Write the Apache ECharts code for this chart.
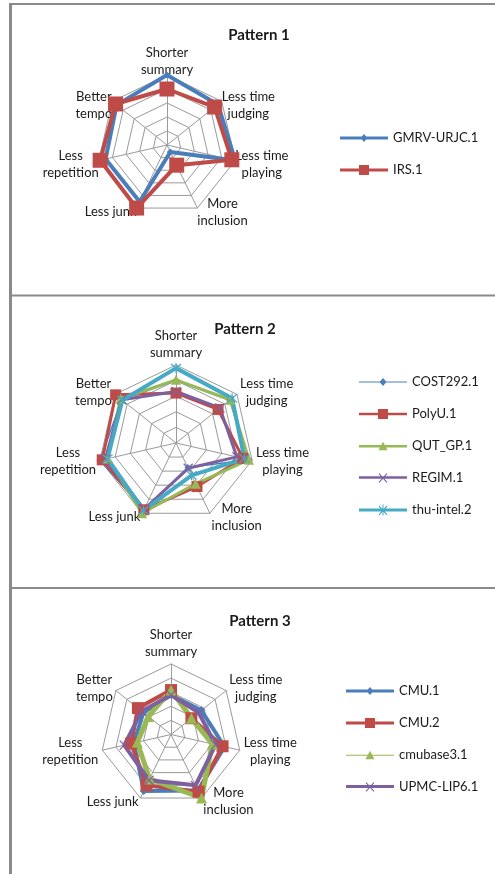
<!DOCTYPE html>
<html>
<head>
<meta charset="utf-8">
<script src="https://cdn.jsdelivr.net/npm/echarts@6/dist/echarts.min.js"></script>
<style>
  html, body { margin: 0; padding: 0; background: #ffffff; }
  #chart { width: 495px; height: 874px; }
</style>
</head>
<body>
<div id="chart"></div>
<script>
// Axis names, listed clockwise from the top
const axisNames = ['Shorter\nsummary', 'Less time\njudging', 'Less time\nplaying', 'More\ninclusion', 'Less junk', 'Less\nrepetition', 'Better\ntempo'];
const axisMax = 5;

const panelTitles = ['Pattern 1', 'Pattern 2', 'Pattern 3'];

// Pattern 1
const p1Names = ['GMRV-URJC.1', 'IRS.1'];
const gmrvUrjc1 = [5.0, 4.65, 5.0, 0.55, 4.5, 4.5, 4.6];
const irs1 = [4.0, 4.35, 4.75, 1.6, 5.0, 4.9, 4.7];

// Pattern 2
const p2Names = ['COST292.1', 'PolyU.1', 'QUT_GP.1', 'REGIM.1', 'thu-intel.2'];
const cost292 = [4.0, 4.4, 4.8, 1.75, 4.75, 5.0, 4.45];
const polyU1 = [3.2, 3.45, 4.4, 3.1, 4.75, 4.85, 4.95];
const qutGp1 = [4.05, 4.45, 4.8, 2.9, 5.0, 4.5, 4.55];
const regim1 = [3.3, 3.6, 4.0, 1.8, 4.7, 4.65, 4.45];
const thuIntel2 = [4.8, 4.6, 4.5, 2.3, 4.8, 4.5, 4.4];

// Pattern 3
const p3Names = ['CMU.1', 'CMU.2', 'cmubase3.1', 'UPMC-LIP6.1'];
const cmu1 = [2.8, 2.75, 3.9, 4.4, 4.45, 2.7, 2.5];
const cmu2 = [3.15, 1.85, 3.75, 4.5, 4.0, 2.9, 3.0];
const cmubase31 = [3.15, 1.85, 3.0, 5.0, 3.5, 2.45, 2.05];
const upmcLip61 = [2.8, 2.5, 3.25, 4.0, 3.6, 3.4, 2.65];

// Office palette
const C = { blue: '#4A7EBB', red: '#BE4B48', green: '#98B954', purple: '#7D60A0', cyan: '#46AAC5' };
const FONT = 'Lato, "Liberation Sans", sans-serif';
const TEXT = '#1a1a1a';
const GRID = '#9a9a9a';

// Marker shapes (drawn as strokes or fills)
const X_MARK = 'path://M0,0L10,10M10,0L0,10';
const STAR_MARK = 'path://M0,0L10,10M10,0L0,10M5,-1L5,11';

// Legend glyphs: a line segment with the series marker in the middle (48 x 12 box)
function bar(w) { const a = 6 - w / 2, b = 6 + w / 2; return 'M0,' + a + 'H48V' + b + 'H0Z'; }
const glyph = {
  diamond: w => 'path://' + bar(w) + 'M24,2L27.5,6L24,10L20.5,6Z',
  rect: w => 'path://' + bar(w) + 'M19,1H29V11H19Z',
  triangle: w => 'path://' + bar(w) + 'M24,1.5L28.5,10H19.5Z',
  cross: w => 'path://' + bar(w) + 'M19.6,2.4L20.4,1.6L28.4,10.4L27.6,11.2ZM27.6,1.6L28.4,2.4L20.4,11.2L19.6,10.4Z',
  star: w => 'path://' + bar(w) + 'M19.6,2.4L20.4,1.6L28.4,10.4L27.6,11.2ZM27.6,1.6L28.4,2.4L20.4,11.2L19.6,10.4ZM23.5,0.5H24.5V11.5H23.5Z'
};

// ECharts lays radar indicators out counter-clockwise; reorder so they run clockwise.
const ccwOrder = [0, 6, 5, 4, 3, 2, 1];
const toCcw = arr => ccwOrder.map(i => arr[i]);
const indicators = toCcw(axisNames).map(n => ({ name: n, min: 0, max: axisMax }));

function radar(center, radius, gap, padding) {
  return {
    center: center,
    radius: radius,
    startAngle: 90,
    shape: 'polygon',
    splitNumber: 5,
    indicator: indicators,
    nameGap: gap,
    axisName: {
      color: TEXT,
      fontFamily: FONT,
      fontSize: 13,
      lineHeight: 17,
      padding: padding,
      formatter: name => name.split('\n').map(s => '{c|' + s + '}').join('\n'),
      rich: { c: { align: 'center', fontFamily: FONT, fontSize: 13, lineHeight: 17, color: TEXT } }
    },
    axisLine: { lineStyle: { color: GRID, width: 1 } },
    splitLine: { lineStyle: { color: GRID, width: 1 } },
    splitArea: { show: false },
    axisTick: { show: false },
    axisLabel: { show: false }
  };
}

function series(radarIndex, name, values, color, width, symbol, size) {
  return {
    type: 'radar',
    radarIndex: radarIndex,
    name: name,
    symbol: symbol,
    symbolSize: size,
    lineStyle: { color: color, width: width },
    itemStyle: { color: color, borderColor: color, borderWidth: symbol.indexOf('path') === 0 ? 1.2 : 0 },
    emphasis: { disabled: true },
    data: [{ value: toCcw(values), name: name }]
  };
}

function legend(items, left, top) {
  return {
    orient: 'vertical',
    left: left,
    top: top,
    itemGap: 16,
    itemWidth: 48,
    itemHeight: 12,
    symbolKeepAspect: true,
    selectedMode: false,
    itemStyle: { borderWidth: 0 },
    data: items.map(it => ({ name: it[0], icon: it[1], itemStyle: { color: it[2], borderWidth: 0 } })),
    textStyle: { color: TEXT, fontFamily: FONT, fontSize: 13, lineHeight: 16 }
  };
}

const chart = echarts.init(document.getElementById('chart'), null, { renderer: 'canvas' });

const titleCenters = [[254, 23], [240, 317], [255, 609]];

chart.setOption({
  animation: false,
  backgroundColor: '#ffffff',
  title: panelTitles.map((t, i) => ({
    text: t,
    left: titleCenters[i][0],
    top: titleCenters[i][1],
    textAlign: 'center',
    textStyle: { fontFamily: FONT, fontSize: 15, fontWeight: 'bold', color: TEXT }
  })),
  legend: [
    legend([
      [p1Names[0], glyph.diamond(3), C.blue],
      [p1Names[1], glyph.rect(3), C.red]
    ], 335, 125),
    legend([
      [p2Names[0], glyph.diamond(1.2), C.blue],
      [p2Names[1], glyph.rect(2.5), C.red],
      [p2Names[2], glyph.triangle(2.5), C.green],
      [p2Names[3], glyph.cross(2.5), C.purple],
      [p2Names[4], glyph.star(3), C.cyan]
    ], 354, 369),
    legend([
      [p3Names[0], glyph.diamond(3), C.blue],
      [p3Names[1], glyph.rect(3), C.red],
      [p3Names[2], glyph.triangle(1.2), C.green],
      [p3Names[3], glyph.cross(3), C.purple]
    ], 341, 678)
  ],
  radar: [
    radar([167, 145], 70, 0, [5, 0, -3, 0]),
    radar([176, 443], 78, 4, [0, 0, 0, 0]),
    radar([171, 734.5], 70.5, 4, [0, 0, 0, 0])
  ],
  series: [
    series(0, p1Names[0], gmrvUrjc1, C.blue, 4, 'diamond', 7),
    series(0, p1Names[1], irs1, C.red, 4, 'rect', 15),

    series(1, p2Names[0], cost292, C.blue, 1.5, 'diamond', 7),
    series(1, p2Names[1], polyU1, C.red, 3, 'rect', 11),
    series(1, p2Names[2], qutGp1, C.green, 3, 'triangle', 10),
    series(1, p2Names[3], regim1, C.purple, 3, X_MARK, 9),
    series(1, p2Names[4], thuIntel2, C.cyan, 4, STAR_MARK, 10),

    series(2, p3Names[0], cmu1, C.blue, 4, 'diamond', 8),
    series(2, p3Names[1], cmu2, C.red, 4, 'rect', 12),
    series(2, p3Names[2], cmubase31, C.green, 5, 'triangle', 11),
    series(2, p3Names[3], upmcLip61, C.purple, 4, X_MARK, 9)
  ],
  graphic: [
    { type: 'line', shape: { x1: 10.5, y1: 3, x2: 10.5, y2: 874 }, style: { stroke: '#8a8a8a', lineWidth: 3 } },
    { type: 'line', shape: { x1: 9, y1: 4, x2: 495, y2: 4 }, style: { stroke: '#8a8a8a', lineWidth: 2 } },
    { type: 'line', shape: { x1: 9, y1: 295.5, x2: 495, y2: 295.5 }, style: { stroke: '#8a8a8a', lineWidth: 2 } },
    { type: 'line', shape: { x1: 9, y1: 588, x2: 495, y2: 588 }, style: { stroke: '#8a8a8a', lineWidth: 2 } }
  ]
});
</script>
</body>
</html>
